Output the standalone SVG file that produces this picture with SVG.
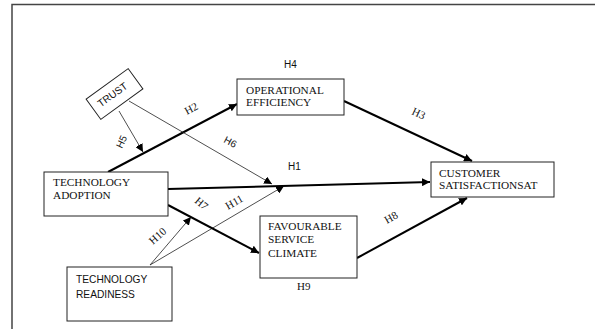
<svg xmlns="http://www.w3.org/2000/svg" width="595" height="329" viewBox="0 0 595 329">
<defs>
<marker id="ahb" viewBox="0 0 10 10" refX="10" refY="5" markerWidth="8" markerHeight="8" orient="auto" markerUnits="userSpaceOnUse"><path d="M0,0 L10,5 L0,10 z" fill="#000"/></marker>
<marker id="aht" viewBox="0 0 10 10" refX="10" refY="5" markerWidth="8" markerHeight="8" orient="auto" markerUnits="userSpaceOnUse"><path d="M0,0 L10,5 L0,10 z" fill="#000"/></marker>
</defs>
<style>
.box{fill:#fff;stroke:#222;stroke-width:1}
.serif{font-family:"Liberation Serif","Times New Roman",serif;font-size:11.3px;fill:#111}
.lbl{font-family:"Liberation Serif","Times New Roman",serif;font-size:11px;fill:#111}
.sans{font-family:"Liberation Sans",Arial,sans-serif;font-size:10.2px;fill:#111}
.slbl{font-family:"Liberation Sans",Arial,sans-serif;font-size:10px;fill:#111}
.thick{stroke:#000;stroke-width:2;fill:none}
.thin{stroke:#222;stroke-width:0.8;fill:none}
</style>
<rect width="595" height="329" fill="#fff"/>
<g id="frame">
<path d="M12,329 V4.5 H595" fill="none" stroke="#444" stroke-width="1.5"/>
</g>
<g id="connectors">
<line class="thick" x1="108" y1="172" x2="237" y2="104" marker-end="url(#ahb)"/>
<line class="thin" x1="119" y1="111" x2="143" y2="152" marker-end="url(#aht)"/>
<line class="thin" x1="129" y1="101" x2="272" y2="184" marker-end="url(#aht)"/>
<line class="thick" x1="168" y1="189" x2="430" y2="182" marker-end="url(#ahb)"/>
<line class="thin" x1="150" y1="265" x2="284" y2="186" marker-end="url(#aht)"/>
<line class="thin" x1="150" y1="265" x2="191" y2="217" marker-end="url(#aht)"/>
<line class="thick" x1="168" y1="205" x2="259" y2="253" marker-end="url(#ahb)"/>
<line class="thick" x1="344" y1="101" x2="472" y2="161" marker-end="url(#ahb)"/>
<line class="thick" x1="357" y1="258" x2="467" y2="198" marker-end="url(#ahb)"/>
<g id="labels">
<text class="slbl" x="284" y="68">H4</text>
<text class="lbl" transform="translate(187,115) rotate(-28)">H2</text>
<text class="slbl" transform="translate(122,149) rotate(-65)">H5</text>
<text class="slbl" transform="translate(223,142) rotate(28)">H6</text>
<text class="slbl" x="288" y="170">H1</text>
<text class="lbl" transform="translate(411,114) rotate(25)">H3</text>
<text class="lbl" transform="translate(387,224) rotate(-30)">H8</text>
<text class="lbl" transform="translate(194,202) rotate(40)">H7</text>
<text class="lbl" transform="translate(228,210) rotate(-30)">H11</text>
<text class="lbl" transform="translate(153,245) rotate(-42)">H10</text>
<text class="lbl" x="297" y="290">H9</text>
</g>
</g>
<g id="trust">
<rect class="box" x="-26" y="-12.5" width="52" height="25" transform="translate(114.5,94) rotate(-36)"/>
<text class="sans" text-anchor="middle" transform="translate(114.5,97.5) rotate(-36)">TRUST</text>
</g>
<g id="operational-efficiency">
<rect class="box" x="237" y="79" width="107" height="36"/>
<text class="serif" x="246" y="94">OPERATIONAL</text>
<text class="serif" x="246" y="106">EFFICIENCY</text>
</g>
<g id="customer-satisfaction">
<rect class="box" x="431" y="162" width="123" height="35"/>
<text class="serif" x="439" y="177">CUSTOMER</text>
<text class="serif" x="439" y="189">SATISFACTIONSAT</text>
</g>
<g id="technology-adoption">
<rect class="box" x="44" y="172" width="124" height="44"/>
<text class="serif" x="53" y="186">TECHNOLOGY</text>
<text class="serif" x="53" y="199">ADOPTION</text>
</g>
<g id="favourable-service-climate">
<rect class="box" x="260" y="216" width="97" height="62"/>
<text class="serif" x="268" y="230">FAVOURABLE</text>
<text class="serif" x="268" y="243">SERVICE</text>
<text class="serif" x="268" y="257">CLIMATE</text>
</g>
<g id="technology-readiness">
<rect class="box" x="67" y="267" width="105" height="54"/>
<text class="sans" x="76" y="283">TECHNOLOGY</text>
<text class="sans" x="76" y="298">READINESS</text>
</g>
</svg>
